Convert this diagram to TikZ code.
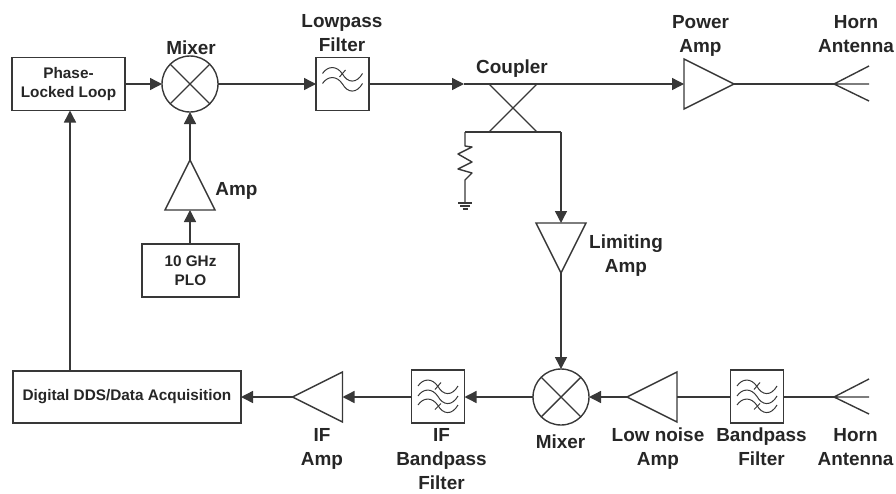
\documentclass[tikz,border=0pt]{standalone}
\usepackage{fontspec}
\setmainfont{Liberation Sans}
\usetikzlibrary{arrows.meta,shapes.geometric}

\newcommand{\filterwave}[1]{
  \draw[wave] (-20,#1-0.5) .. controls (-15,#1-8) and (-6,#1-9) .. (0,#1)
              .. controls (5,#1+9) and (14,#1+10) .. (20,#1-0.5);
}
\tikzset{
  wire/.style={line width=1.05pt, draw=black!78},
  flow/.style={wire, -{Triangle[length=9pt,width=9pt]}},
  wave/.style={line width=0.75pt, draw=black!78},
  blockbox/.style={draw=black!78, line width=1.05pt, rectangle, align=center, inner sep=0pt, outer sep=0pt,
    font=\bfseries\fontsize{11.5pt}{14pt}\selectfont, text=black!85},
  tag/.style={align=center, inner sep=0pt, text=black!85,
    font=\bfseries\fontsize{14.2pt}{18pt}\selectfont},
  mixer/.style={draw=black!78, line width=1.05pt, circle, minimum size=42pt, inner sep=0pt, outer sep=0pt,
    path picture={
      \draw[wire] (path picture bounding box.north west) -- (path picture bounding box.south east);
      \draw[wire] (path picture bounding box.north east) -- (path picture bounding box.south west);
    }},
  amp/.style={draw=black!78, line width=1.05pt, isosceles triangle, isosceles triangle stretches,
    minimum width=37.5pt, minimum height=37.5pt, inner sep=0pt, outer sep=0pt},
  lowpass/.style={blockbox, minimum size=39.75pt, postaction={draw=black!78, line width=1.05pt},
    path picture={
      \begin{scope}[shift={(path picture bounding box.center)}]
        \filterwave{-10}
        \filterwave{0}
        \draw[wave] (-3,-7) -- (3,-14);
      \end{scope}
    }},
  bandpass/.style={blockbox, minimum size=39.75pt, postaction={draw=black!78, line width=1.05pt},
    path picture={
      \begin{scope}[shift={(path picture bounding box.center)}]
        \filterwave{-10}
        \filterwave{0}
        \filterwave{9}
        \draw[wave] (-3,-7) -- (3,-14);
        \draw[wave] (-3,13) -- (3,7);
      \end{scope}
    }},
}

\begin{document}
\begin{tikzpicture}[x=0.75pt, y=-0.75pt]
                \useasboundingbox (0,0) rectangle (896,493);

                % upper chain
                \node [blockbox, minimum width=84.75pt, minimum height=39.75pt] (pll) at (68.5,84) {Phase-\\Locked Loop};
                \node [mixer] (mixup) at (190,84) {};
                \node [lowpass] (lpf) at (342.5,84) {};
                \node [amp, shape border rotate=0, anchor=lower side] (pamp) at (684,84) {};
                \coordinate (hornup) at (834,84);
                \coordinate (cplin) at (464,84);

                % local oscillator
                \node [amp, shape border rotate=90, anchor=lower side] (loamp) at (190,210) {};
                \node [blockbox, minimum width=72.75pt, minimum height=39.75pt] (plo) at (190.5,270.5) {10 GHz\\PLO};

                % coupler
                \coordinate (cplnw) at (489,84);
                \coordinate (cplne) at (537,84);
                \coordinate (cplsw) at (489,132);
                \coordinate (cplse) at (537,132);
                \coordinate (cplterm) at (465,132);
                \coordinate (cpltap) at (561,132);
                \coordinate (gnd) at (465,203);

                % lower chain
                \node [amp, shape border rotate=270, anchor=lower side] (limamp) at (561,223) {};
                \node [mixer] (mixdn) at (561,397) {};
                \node [amp, shape border rotate=180, anchor=lower side] (lna) at (677,397) {};
                \node [bandpass] (bpf) at (757,396.5) {};
                \coordinate (horndn) at (834,397);
                \node [bandpass] (ifbpf) at (438,396.5) {};
                \node [amp, shape border rotate=180, anchor=lower side] (ifamp) at (342.5,397) {};
                \node [blockbox, minimum width=171pt, minimum height=39pt] (dds) at (127,397) {Digital DDS/Data Acquisition};

                % connectors
                \draw [flow] (pll.east |- mixup) -- (mixup.west);
                \draw [flow] (mixup.east) -- (lpf.west);
                \draw [flow] (lpf.east) -- (cplin);
                \draw [flow] (cplin) -- (pamp.lower side);
                \draw [wire] (pamp.apex) -- (hornup);
                \draw [wire] (hornup) -- ++(35,-18) (hornup) -- ++(35,0) (hornup) -- ++(35,17);
                \draw [flow] (plo.north -| loamp.lower side) -- (loamp.lower side);
                \draw [flow] (loamp.apex) -- (mixup.south);

                \draw [wire] (cplnw) -- (cplse) (cplne) -- (cplsw);
                \draw [wire] (cplterm) -- (cpltap);
                \draw [flow] (cpltap) -- (limamp.lower side);
                \draw [flow] (limamp.apex) -- (mixdn.north);
                \draw [wire, line join=round] (cplterm) -- ++(0,14) -- ++(7,1) -- ++(-14,7) -- ++(14,8)
                      -- ++(-14,7) -- ++(14,4) -- ++(-7,7) -- (gnd);
                \draw [wire] (gnd) ++(-7,0) -- ++(14,0) (gnd) ++(-5,3) -- ++(10,0) (gnd) ++(-2.5,6) -- ++(5,0);

                \draw [wire] (horndn) -- ++(35,-18) (horndn) -- ++(35,0) (horndn) -- ++(35,17);
                \draw [wire] (horndn) -- (bpf.east |- horndn);
                \draw [wire] (bpf.west |- lna.lower side) -- (lna.lower side);
                \draw [flow] (lna.apex) -- (mixdn.east);
                \draw [flow] (mixdn.west) -- (ifbpf.east |- mixdn.west);
                \draw [flow] (ifbpf.west |- ifamp.lower side) -- (ifamp.lower side);
                \draw [flow] (ifamp.apex) -- (dds.east);
                \draw [flow] (dds.north -| 70,0) -- (pll.south -| 70,0);

                % labels
                \node [tag] (lblmixup) at (191,48) {Mixer};
                \node [tag] (lbllpf) at (342,33.5) {Lowpass\\Filter};
                \node [tag] (lblcpl) at (512,68.5) {Coupler};
                \node [tag] (lblpamp) at (700.5,35.5) {Power\\Amp};
                \node [tag] (lblhornup) at (856,34) {Horn\\Antenna};
                \node [tag] (lblloamp) at (236.5,190.5) {Amp};
                \node [tag] (lbllimamp) at (626,256) {Limiting\\Amp};
                \node [tag] (lblmixdn) at (560.5,442) {Mixer};
                \node [tag] (lbllna) at (658,448.5) {Low noise\\Amp};
                \node [tag] (lblbpf) at (761.5,446.5) {Bandpass\\Filter};
                \node [tag] (lblhorndn) at (855.5,447) {Horn\\Antenna};
                \node [tag] (lblifamp) at (322,448.5) {IF\\Amp};
                \node [tag] (lblifbpf) at (441.5,459.5) {IF\\Bandpass\\Filter};
            \end{tikzpicture}
\end{document}
